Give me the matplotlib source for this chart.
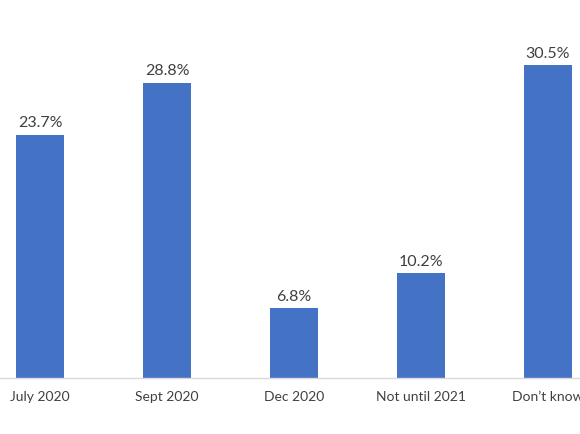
import matplotlib.pyplot as plt

categories = ["July 2020", "Sept 2020", "Dec 2020", "Not until 2021", "Don\u2019t know"]
values = [23.7, 28.8, 6.8, 10.2, 30.5]

plt.rcParams['font.family'] = ['Lato', 'DejaVu Sans']

fig = plt.figure(figsize=(5.8, 4.35), dpi=100)
base = (435 - 379) / 435
ax = fig.add_axes([0, base, 1, 1 - base])

x = list(range(len(categories)))
bars = ax.bar(x, values, width=48 / 127, color="#4472C4")

for xi, v in zip(x, values):
    ax.annotate(f"{v}%", (xi, v), xytext=(0, 4), textcoords="offset points",
                ha="center", va="bottom", fontsize=11.5, color="#404040")

ax.set_xlim(-40 / 127, (580 - 40) / 127)
ax.set_ylim(0, 379 / 10.26)
ax.set_xticks(x)
ax.set_xticklabels(categories, fontsize=10, color="#404040")
ax.tick_params(axis="x", length=0, pad=9)
ax.set_yticks([])
for s in ["top", "right", "left"]:
    ax.spines[s].set_visible(False)
ax.spines["bottom"].set_color("#D9D9D9")
ax.spines["bottom"].set_linewidth(1)

fig.savefig("out.png", dpi=100)
